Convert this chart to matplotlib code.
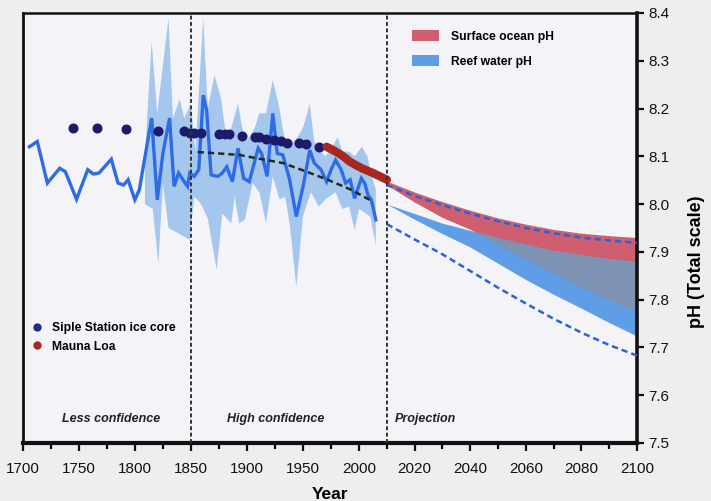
import numpy as np
import matplotlib
matplotlib.use("Agg")
import matplotlib.pyplot as plt
from matplotlib.lines import Line2D
from matplotlib.patches import Patch

plt.rcParams['font.family'] = ['Liberation Sans', 'DejaVu Sans']

# ---- reef water pH reconstruction (coral record) ----
reef_years = [1706, 1713, 1722, 1733, 1738, 1748, 1758, 1763, 1768, 1779,
              1785, 1790, 1794, 1800, 1804, 1815, 1820, 1825, 1831, 1835,
              1839, 1844, 1847, 1849, 1853, 1857, 1861, 1864, 1868, 1874,
              1878, 1882, 1887, 1892, 1897, 1902, 1910, 1913, 1918, 1923,
              1927, 1932, 1938, 1944, 1950, 1956, 1960, 1966, 1971, 1975,
              1979, 1984, 1988, 1992, 1996, 2000.8, 2002, 2003.2, 2004.4, 2006]
reef_ph = [8.120, 8.131, 8.044, 8.075, 8.068, 8.010, 8.072, 8.063, 8.065, 8.094,
           8.044, 8.040, 8.051, 8.009, 8.030, 8.180, 8.009, 8.106, 8.180, 8.037,
           8.065, 8.047, 8.037, 8.065, 8.058, 8.072, 8.228, 8.197, 8.061, 8.058,
           8.065, 8.078, 8.047, 8.117, 8.054, 8.047, 8.117, 8.106, 8.058, 8.190,
           8.106, 8.103, 8.051, 7.974, 8.037, 8.113, 8.086, 8.072, 8.047, 8.072,
           8.092, 8.072, 8.044, 8.051, 8.012, 8.054, 8.044, 8.019, 8.009, 7.967]

# uncertainty envelope of the reconstruction
env_up_years = [1809, 1815, 1820, 1830, 1834, 1840, 1844, 1850, 1854, 1861,
                1865, 1871, 1877, 1882, 1886, 1892, 1898, 1902, 1907, 1911,
                1917, 1923, 1929, 1934, 1938, 1945, 1950, 1956, 1960, 1966,
                1970, 1976, 1981, 1985, 1991, 1996, 2001, 2003, 2004, 2006]
env_up = [8.10, 8.34, 8.19, 8.39, 8.18, 8.22, 8.18, 8.21, 8.11, 8.39,
          8.20, 8.27, 8.22, 8.13, 8.16, 8.21, 8.13, 8.14, 8.16, 8.19,
          8.19, 8.26, 8.20, 8.13, 8.12, 8.14, 8.16, 8.21, 8.13, 8.11,
          8.10, 8.12, 8.14, 8.11, 8.11, 8.10, 8.12, 8.10, 8.07, 8.03]
env_lo_years = [1809, 1816, 1821, 1825, 1830, 1838, 1849, 1853, 1859, 1865,
                1873, 1878, 1886, 1889, 1893, 1898, 1905, 1911, 1917, 1923,
                1929, 1934, 1938, 1944, 1950, 1957, 1964, 1970, 1979, 1985,
                1991, 1996, 2000, 2004, 2006]
env_lo = [8.00, 7.99, 7.876, 8.044, 7.95, 7.94, 7.925, 8.016, 8.00, 7.97,
          7.862, 7.98, 7.96, 8.016, 7.96, 7.967, 8.044, 8.025, 7.96, 8.058,
          8.01, 8.015, 7.96, 7.827, 7.975, 8.025, 7.995, 8.01, 8.025, 7.99,
          7.995, 7.946, 7.99, 7.974, 7.915]

# ---- Siple Station ice core ----
siple_years = [1745, 1766, 1792, 1821, 1844, 1849, 1853, 1859, 1875, 1880,
               1884, 1896, 1907, 1911, 1917, 1924, 1930, 1936, 1946, 1953, 1964]
siple_ph = [8.160, 8.160, 8.157, 8.153, 8.153, 8.148, 8.148, 8.148, 8.146, 8.146,
            8.146, 8.143, 8.141, 8.140, 8.136, 8.134, 8.133, 8.127, 8.127, 8.126, 8.120]

# ---- Mauna Loa ----
mlo_years = [1971, 1976, 1982, 1987, 1991, 1996, 2001, 2005, 2010]
mlo_ph = [8.120, 8.114, 8.106, 8.098, 8.090, 8.083, 8.075, 8.065, 8.051]

# ---- long-term surface trend ----
trend_years = [1856, 1875, 1893, 1911, 1932, 1953, 1972, 1993, 2005]
trend_ph = [8.109, 8.106, 8.103, 8.095, 8.086, 8.068, 8.051, 8.030, 8.005]

# ---- projections ----
proj_years = [2010, 2020, 2030, 2040, 2050, 2060, 2070, 2080, 2090, 2100]
ocean_hi = [8.048, 8.025, 8.005, 7.987, 7.971, 7.958, 7.947, 7.939, 7.934, 7.930]
ocean_lo = [8.040, 8.004, 7.972, 7.947, 7.915, 7.885, 7.855, 7.826, 7.799, 7.775]
reef_hi = [8.000, 7.980, 7.960, 7.945, 7.930, 7.916, 7.903, 7.894, 7.886, 7.880]
reef_lo = [8.000, 7.968, 7.938, 7.910, 7.876, 7.842, 7.811, 7.782, 7.752, 7.724]
dash_hi = [8.040, 8.017, 7.998, 7.980, 7.964, 7.950, 7.939, 7.930, 7.924, 7.919]
dash_lo = [7.958, 7.926, 7.895, 7.860, 7.825, 7.792, 7.760, 7.731, 7.705, 7.683]

x_major = [1700, 1750, 1800, 1850, 1900, 1950, 2000, 2020, 2040, 2060, 2080, 2100]
x_minor = [1725, 1775, 1825, 1875, 1925, 1975, 2010, 2030, 2050, 2070, 2090]
y_ticks = [7.5, 7.6, 7.7, 7.8, 7.9, 8.0, 8.1, 8.2, 8.3, 8.4]

# colours
C_BAND = '#a5c7ee'
C_LINE = '#2e6ce6'
C_SIPLE = '#1c1a6b'
C_MLO = '#a8281f'
C_OCEAN = '#cf5f6e'
C_REEF = '#5f9de6'
C_OVER = '#7e93b4'
C_PROJ = '#2a62d8'

STRETCH = 2.478  # the years after 2000 are drawn wider


def fwd(x):
    x = np.asarray(x, float)
    return np.where(x <= 2000, x - 2000, (x - 2000) * STRETCH)


def inv(u):
    u = np.asarray(u, float)
    return np.where(u <= 0, u + 2000, u / STRETCH + 2000)


W, H = 711, 501
fig = plt.figure(figsize=(W / 100, H / 100), dpi=100, facecolor='#eeeeee')
ax = fig.add_axes([22.7 / W, 1 - 443 / H, (637 - 22.7) / W, (443 - 13) / H])
ax.set_facecolor('#f3f3f8')
ax.set_xscale('function', functions=(fwd, inv))
ax.set_xlim(1700, 2100)
ax.set_ylim(7.5, 8.4)

# reconstruction envelope
poly_x = list(env_up_years) + list(env_lo_years[::-1])
poly_y = list(env_up) + list(env_lo[::-1])
ax.fill(poly_x, poly_y, color=C_BAND, lw=0, zorder=1)
ax.plot(reef_years, reef_ph, color=C_LINE, lw=2.4, zorder=3, solid_joinstyle='miter')
ax.plot(trend_years, trend_ph, color='#1d2b24', lw=1.8, ls=(0, (2.5, 1.6)), zorder=4)
ax.plot(siple_years, siple_ph, 'o', color=C_SIPLE, ms=6.2, zorder=5)
ax.plot(mlo_years, mlo_ph, color=C_MLO, lw=6, solid_capstyle='round', zorder=5)

# projections
ax.fill_between(proj_years, ocean_lo, ocean_hi, color=C_OCEAN, lw=0, zorder=1)
ax.fill_between(proj_years, reef_lo, reef_hi, color=C_REEF, lw=0, zorder=2)
ol = np.array(ocean_lo)
rh = np.array(reef_hi)
ax.fill_between(proj_years, ol, rh, where=ol <= rh, interpolate=True,
                color=C_OVER, lw=0, zorder=2.5)
ax.plot(proj_years, dash_hi, color=C_PROJ, lw=1.8, ls=(0, (2.5, 1.6)), zorder=4)
ax.plot(proj_years, dash_lo, color=C_PROJ, lw=1.8, ls=(0, (2.5, 1.6)), zorder=4)

# period separators
for xv in (1850, 2010):
    ax.axvline(xv, color='#333333', lw=1.4, ls=(0, (2, 1.3)), zorder=6)

# period labels
for xt, txt, ha in ((1778.5, 'Less confidence', 'center'),
                    (1926, 'High confidence', 'center'),
                    (2012.7, 'Projection', 'left')):
    ax.text(xt, 7.551, txt, fontsize=9, fontweight='bold', style='italic',
            color='#222222', ha=ha, va='center', zorder=7)

# axes styling
ax.yaxis.tick_right()
ax.yaxis.set_label_position('right')
ax.set_yticks(y_ticks)
ax.set_yticklabels([f'{v:.1f}' for v in y_ticks])
ax.set_xticks(x_major)
ax.set_xticklabels([str(v) for v in x_major])
ax.set_xticks(x_minor, minor=True)
ax.xaxis.set_minor_formatter(matplotlib.ticker.NullFormatter())
ax.tick_params(axis='both', which='major', direction='out', labelsize=11,
               color='#111111', labelcolor='#111111')
ax.tick_params(axis='x', which='major', length=6, width=1.6, pad=7.5)
ax.tick_params(axis='x', which='minor', length=4, width=1.6)
ax.tick_params(axis='y', which='major', length=5, width=1.6, pad=3)
ax.tick_params(axis='y', which='minor', length=0)
for side, lw in (('left', 2.0), ('top', 1.8), ('right', 2.6), ('bottom', 3.0)):
    ax.spines[side].set_linewidth(lw)
    ax.spines[side].set_color('#111111')

ax.set_xlabel('Year', fontsize=12.5, fontweight='bold', labelpad=8)
ax.set_ylabel('pH (Total scale)', fontsize=13, fontweight='bold', rotation=90)
ax.yaxis.set_label_coords(1.083, 0.421)

# legends
proj_handles = [Patch(facecolor=C_OCEAN, edgecolor='none', label='Surface ocean pH'),
                Patch(facecolor=C_REEF, edgecolor='none', label='Reef water pH')]
leg1 = ax.legend(handles=proj_handles, loc='upper left', frameon=False,
                 bbox_to_anchor=((412 - 22.7) / 614.3, (443 - 30) / 430),
                 prop={'weight': 'bold', 'size': 8.7}, borderpad=0,
                 handlelength=2.2, handleheight=1.0, handletextpad=1.05,
                 labelspacing=1.05, borderaxespad=0)
ax.add_artist(leg1)

pt_handles = [Line2D([], [], ls='none', marker='o', ms=5, color='#1f2a8c',
                     label='Siple Station ice core'),
              Line2D([], [], ls='none', marker='o', ms=5, color=C_MLO,
                     label='Mauna Loa')]
ax.legend(handles=pt_handles, loc='upper left', frameon=False,
          bbox_to_anchor=((30 - 22.7) / 614.3, (443 - 322.5) / 430),
          prop={'weight': 'bold', 'size': 8.7}, borderpad=0,
          handlelength=1.1, handletextpad=0.7, labelspacing=0.5,
          borderaxespad=0)

fig.savefig('out.png', dpi=100, facecolor=fig.get_facecolor())
